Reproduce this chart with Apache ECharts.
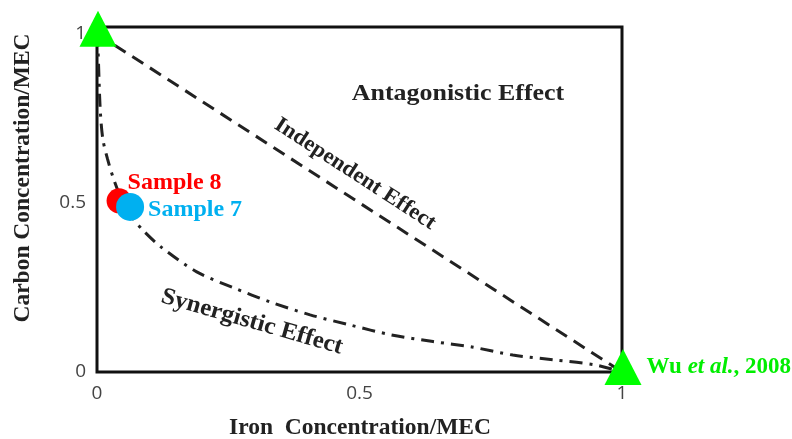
<!DOCTYPE html>
<html>
<head>
<meta charset="utf-8">
<style>
  html, body { margin: 0; padding: 0; background: #fff; }
  #chart { width: 792px; height: 439px; }
</style>
<script src="https://cdn.jsdelivr.net/npm/echarts@6/dist/echarts.min.js"></script>
</head>
<body>
<div id="chart"></div>
<script>
// Axis ticks
const xTicks = [0, 0.5, 1];
const yTicks = [0, 0.5, 1];

// Synergistic isobole (dash-dot curve)
const synergyIron = [0, 0.002, 0.006, 0.011, 0.02, 0.034, 0.05, 0.068, 0.09, 0.124, 0.19, 0.26, 0.33, 0.406, 0.482, 0.56, 0.64, 0.714, 0.792, 0.869, 0.949, 1];
const synergyCarbon = [1, 0.95, 0.78, 0.69, 0.63, 0.56, 0.5, 0.455, 0.415, 0.367, 0.296, 0.249, 0.207, 0.169, 0.139, 0.11, 0.09, 0.074, 0.05, 0.036, 0.021, 0];

// Independent (additive) line
const independentIron = [0, 1];
const independentCarbon = [1, 0];

// Reference single-component MEC points (Wu et al., 2008)
const refIron = [0, 1];
const refCarbon = [1, 0];

// Measured samples
const sampleNames = ['Sample 8', 'Sample 7'];
const sampleIron = [0.042, 0.063];
const sampleCarbon = [0.506, 0.488];
const sampleColors = ['#ff0000', '#00b0f0'];

const serif = '"Liberation Serif", "Times New Roman", serif';
const zip = (xs, ys) => xs.map((x, i) => [x, ys[i]]);

const chart = echarts.init(document.getElementById('chart'));

const sampleSeries = sampleNames.map((name, i) => ({
  name: name,
  type: 'scatter',
  z: 5 + i,
  symbol: 'circle',
  symbolSize: i === 0 ? 25 : 28,
  itemStyle: { color: sampleColors[i], opacity: 1 },
  label: {
    show: true,
    position: 'right',
    distance: 2,
    offset: i === 0 ? [-6, -18] : [2, 3],
    formatter: name,
    color: sampleColors[i],
    fontFamily: serif,
    fontWeight: 'bold',
    fontSize: 24
  },
  data: [[sampleIron[i], sampleCarbon[i]]]
}));

// Annotation text helper
const note = (text, x, y, deg, size, sx) => ({
  type: 'text', x: x, y: y, rotation: deg * Math.PI / 180, scaleX: sx, scaleY: 1,
  style: {
    text: text, fill: '#222',
    font: 'bold ' + size + 'px ' + serif, align: 'center', verticalAlign: 'middle'
  }
});

chart.setOption({
  animation: false,
  backgroundColor: '#ffffff',
  grid: {
    left: 97, right: 170, top: 27, bottom: 67,
    show: true,
    borderColor: '#111',
    borderWidth: 3,
    backgroundColor: 'transparent'
  },
  xAxis: {
    type: 'value',
    min: 0, max: 1,
    axisLine: { show: false },
    axisTick: { show: false },
    splitLine: { show: false },
    axisLabel: {
      customValues: xTicks,
      margin: 12,
      color: '#444',
      fontFamily: '"Open Sans", "Noto Sans", sans-serif',
      fontSize: 19
    }
  },
  yAxis: {
    type: 'value',
    min: 0, max: 1.02,
    axisLine: { show: false },
    axisTick: { show: false },
    splitLine: { show: false },
    axisLabel: {
      customValues: yTicks,
      margin: 11,
      color: '#444',
      fontFamily: '"Open Sans", "Noto Sans", sans-serif',
      fontSize: 19
    }
  },
  graphic: [
    note('Carbon Concentration/MEC', 23, 178, 90, 23.5, 1),
    note('Iron  Concentration/MEC', 360, 428, 0, 23.5, 1),
    note('Antagonistic Effect', 458, 94, 0, 24, 1.08),
    note('Independent Effect', 355, 174, -33, 22, 1.04),
    note('Synergistic Effect', 252, 322, -16, 24, 1.04)
  ],
  series: [
    {
      name: 'Independent Effect',
      type: 'line',
      z: 2,
      symbol: 'none',
      lineStyle: { color: '#222', width: 3, type: [13, 8] },
      data: zip(independentIron, independentCarbon)
    },
    {
      name: 'Synergistic Effect',
      type: 'line',
      z: 2,
      symbol: 'none',
      smooth: 0.3,
      lineStyle: { color: '#222', width: 3, type: [13, 7, 3, 7] },
      data: zip(synergyIron, synergyCarbon)
    },
    ...sampleSeries,
    {
      name: 'Wu et al., 2008',
      type: 'scatter',
      z: 8,
      symbol: 'triangle',
      symbolSize: [37, 36],
      symbolOffset: [1, -5],
      itemStyle: { color: '#00ff00', opacity: 1 },
      label: {
        show: true,
        position: 'right',
        distance: 5,
        formatter: p => p.dataIndex === 1 ? '{n|Wu }{i|et al.}{n|, 2008}' : '',
        rich: {
          n: { color: '#00ee00', fontFamily: serif, fontWeight: 'bold', fontSize: 23 },
          i: { color: '#00ee00', fontFamily: serif, fontWeight: 'bold', fontStyle: 'italic', fontSize: 23 }
        }
      },
      data: zip(refIron, refCarbon)
    }
  ]
});
</script>
</body>
</html>
